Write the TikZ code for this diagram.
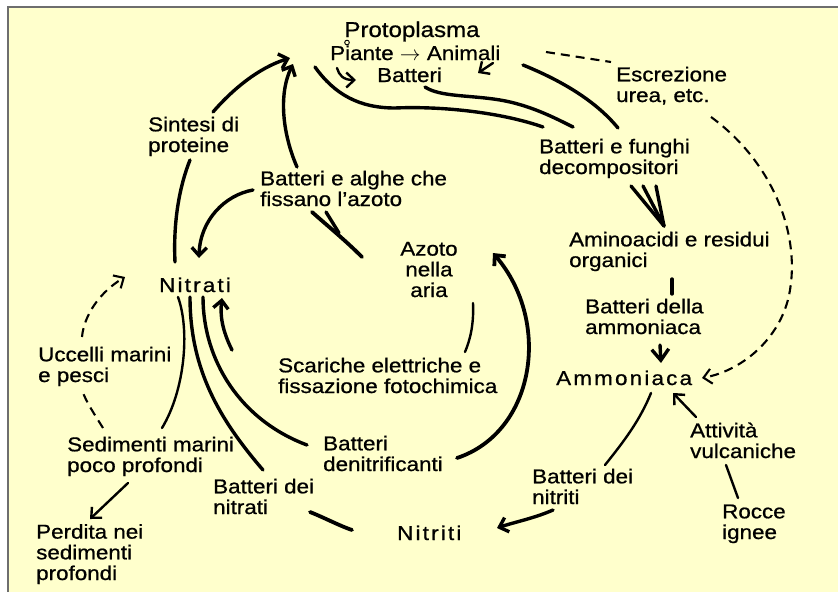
\documentclass[tikz,border=0pt]{standalone}
\usepackage{fontspec}
\setmainfont{Liberation Sans}[FakeStretch=1.12, FakeBold=0.8]
\usetikzlibrary{arrows.meta}
\definecolor{paper}{RGB}{255,255,204}
\definecolor{frameline}{RGB}{110,110,110}

\begin{document}
\begin{tikzpicture}[x=1pt,y=-1pt,
  lbl/.style={font=\fontsize{20}{20.7}\selectfont, inner sep=0pt, anchor=base west, align=left},
  spaced/.style={lbl, font=\fontsize{20}{20.7}\selectfont\addfontfeature{LetterSpace=11}},
  flow/.style={line width=3.4pt, line cap=round},
  fine/.style={line width=2.4pt, line cap=round},
  tip/.style={-{Straight Barb[length=8pt,width=15pt]}},
  bigtip/.style={-{Straight Barb[length=11pt,width=17pt]}},
  dashedflow/.style={line width=2.1pt, dash pattern=on 9pt off 6pt},
]
\useasboundingbox (0,0) rectangle (838,592);
% page and frame
\fill[white] (0,0) rectangle (838,592);
\fill[paper] (8,7) rectangle (838,592);
\draw[frameline, line width=2pt] (8,592) -- (8,7) -- (838,7);

% ---------- labels (anchored at the baseline of their last line) ----------
\node[lbl, anchor=base, font=\fontsize{21.5}{23}\selectfont] (proto) at (412,37) {Protoplasma};
\node[lbl] (piante) at (330,60) {Piante $\rightarrow$ Animali};
\node[lbl] (batt) at (377,82) {Batteri};
\node[lbl] (escr) at (616,102) {Escrezione\\urea, etc.};
\node[lbl] (decomp) at (539,174) {Batteri e funghi\\decompositori};
\node[lbl] (amino) at (569,267) {Aminoacidi e residui\\organici};
\node[lbl] (bamm) at (585,334) {Batteri della\\ammoniaca};
\node[spaced] (ammon) at (556,385) {Ammoniaca};
\node[lbl] (attiv) at (690,458) {Attività\\vulcaniche};
\node[lbl] (rocce) at (722,539) {Rocce\\ignee};
\node[lbl] (bnitriti) at (532,504) {Batteri dei\\nitriti};
\node[spaced] (nitriti) at (397,540) {Nitriti};
\node[lbl] (denit) at (323,471) {Batteri\\denitrificanti};
\node[lbl] (bnitrati) at (213,514) {Batteri dei\\nitrati};
\node[lbl] (sedim) at (67,472) {Sedimenti marini\\poco profondi};
\node[lbl] (perdita) at (36,580) {Perdita nei\\sedimenti\\profondi};
\node[lbl] (uccelli) at (38,382) {Uccelli marini\\e pesci};
\node[spaced] (nitrati) at (159,292) {Nitrati};
\node[lbl] (scariche) at (278,393) {Scariche elettriche e\\fissazione fotochimica};
\node[lbl, anchor=base, align=center] (azoto) at (429,297) {Azoto\\nella\\aria};
\node[lbl] (fissatori) at (260,206) {Batteri e alghe che\\fissano l'azoto};
\node[lbl] (sintesi) at (148,152) {Sintesi di\\proteine};

% ---------- connector end points ----------
\coordinate (p1) at (175,262); \coordinate (p2) at (190,160);
\coordinate (p3) at (213,112); \coordinate (p4) at (290,58);
\coordinate (p5) at (297,167); \coordinate (p6) at (293,64);
\coordinate (p7) at (253,190); \coordinate (p8) at (199,258);
\coordinate (p9) at (312,212); \coordinate (p10) at (362,257);
\coordinate (p11) at (326,212); \coordinate (p12) at (339,233);
\coordinate (p13) at (473,303); \coordinate (p14) at (465,352);
\coordinate (p15) at (232,350); \coordinate (p16) at (222,298);
\coordinate (p17) at (203,297); \coordinate (p18) at (307,445);
\coordinate (p19) at (190,297); \coordinate (p20) at (263,470);
\coordinate (p21) at (178,297); \coordinate (p22) at (162,428);
\coordinate (p23) at (457,458); \coordinate (p24) at (493,253);
\coordinate (p25) at (310,512); \coordinate (p26) at (352,530);
\coordinate (p27) at (651,393); \coordinate (p28) at (605,465);
\coordinate (p29) at (553,510); \coordinate (p30) at (497,528);
\coordinate (p31) at (696,417); \coordinate (p32) at (673,393);
\coordinate (p33) at (726,465); \coordinate (p34) at (738,498);
\coordinate (p35) at (660,345); \coordinate (p36) at (661,363);
\coordinate (p37) at (672,279); \coordinate (p38) at (672,294);
\coordinate (p39) at (631,186); \coordinate (p40) at (643,186);
\coordinate (p41) at (656,186); \coordinate (p42) at (664,226);
\coordinate (p43) at (315,67);  \coordinate (p44) at (543,127);
\coordinate (p45) at (425,87);  \coordinate (p46) at (573,127);
\coordinate (p47) at (523,65);  \coordinate (p48) at (618,128);
\coordinate (p49) at (546,52);  \coordinate (p50) at (611,62);
\coordinate (p51) at (711,117); \coordinate (p52) at (702,378);
\coordinate (p53) at (103,428); \coordinate (p54) at (82,390);
\coordinate (p55) at (82,337);  \coordinate (p56) at (125,277);
\coordinate (p57) at (128,483); \coordinate (p58) at (90,519);
\coordinate (p59) at (337,68);  \coordinate (p60) at (356,80);
\coordinate (p61) at (493,63);  \coordinate (p62) at (478,73);

% ---------- nitrogen fixation / synthesis ----------
\draw[flow] (p1) .. controls (173,220) and (180,185) .. (p2);
\draw[flow, tip] (p3) .. controls (232,90) and (258,68) .. (p4);
\draw[flow, tip] (p5) .. controls (283,135) and (278,95) .. (p6);
\draw[flow, tip] (p7) .. controls (225,195) and (200,220) .. (p8);
\draw[flow, line width=3.8pt] (p9) .. controls (330,228) and (345,240) .. (p10);
\draw[flow] (p11) -- (p12);
\draw[fine] (p13) .. controls (474,325) and (470,340) .. (p14);
\draw[flow, tip] (p15) .. controls (222,330) and (220,315) .. (p16);

% ---------- from the nitrates ----------
\draw[flow] (p17) .. controls (203,360) and (240,420) .. (p18);
\draw[flow] (p19) .. controls (190,370) and (220,420) .. (p20);
\draw[fine] (p21) .. controls (190,330) and (185,390) .. (p22);
\draw[flow, line width=3.8pt, tip] (p23) .. controls (535,432) and (552,322) .. (p24);
\draw[flow, line width=3.8pt] (p25) .. controls (325,518) and (340,526) .. (p26);

% ---------- ammonia and nitrites ----------
\draw[fine] (p27) .. controls (640,420) and (625,440) .. (p28);
\draw[flow, tip] (p29) .. controls (535,518) and (515,522) .. (p30);
\draw[fine, tip] (p31) -- (p32);
\draw[fine] (p33) -- (p34);
\draw[flow, bigtip] (p35) -- (p36);
\draw[flow] (p37) -- (p38);
\draw[flow] (p39) -- (p42);
\draw[flow] (p40) -- (p42);
\draw[flow] (p41) -- (p42);

% ---------- decomposition of protoplasm ----------
\draw[flow] (p43) .. controls (335,95) and (360,108) .. (395,108)
                  .. controls (440,106) and (500,112) .. (p44);
\draw[flow] (p45) .. controls (440,97) and (470,95) .. (500,100)
                  .. controls (530,105) and (555,118) .. (p46);
\draw[flow] (p47) .. controls (560,80) and (595,100) .. (p48);

% ---------- excretion ----------
\draw[dashedflow] (p49) -- (p50);
\draw[dashedflow, tip] (p51) .. controls (770,160) and (800,230) .. (790,290)
                             .. controls (783,335) and (745,370) .. (p52);

% ---------- marine loop ----------
\draw[dashedflow] (p53) .. controls (95,415) and (86,402) .. (p54);
\draw[dashedflow, tip] (p55) .. controls (84,315) and (100,292) .. (p56);
\draw[fine, tip] (p57) -- (p58);

% ---------- inside the protoplasm ----------
\draw[fine, tip] (p59) .. controls (339,75) and (343,80) .. (p60);
\draw[fine, tip] (p61) -- (p62);
\draw[line width=0.9pt] (347,42.5) circle (2.3);
\end{tikzpicture}
\end{document}
